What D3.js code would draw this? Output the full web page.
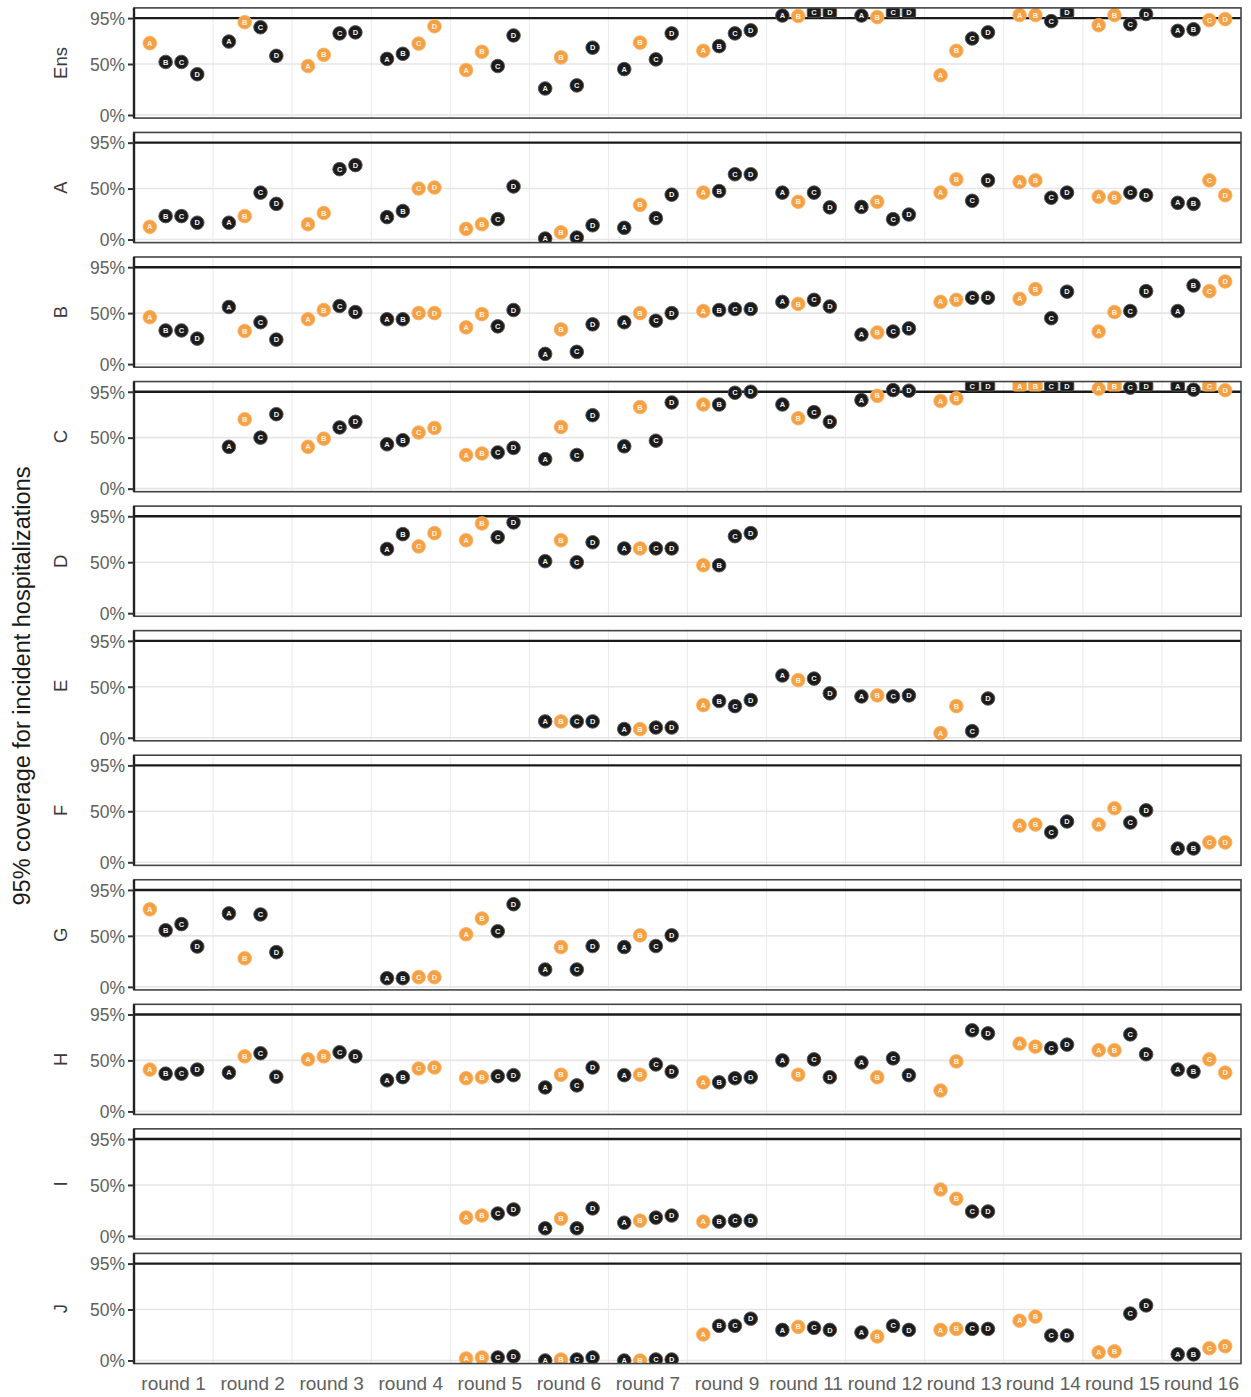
<!DOCTYPE html>
<html>
<head>
<meta charset="utf-8">
<script src="https://cdn.jsdelivr.net/npm/d3@7"></script>
<style>
  html, body { margin: 0; padding: 0; background: #fff; }
  svg { display: block; font-family: "Liberation Sans", Arial, sans-serif; }
</style>
</head>
<body>
<svg id="chart" width="1251" height="1397"></svg>
<script>
// ---------------- DATA ----------------
const rounds = ["round 1","round 2","round 3","round 4","round 5","round 6","round 7",
                "round 9","round 11","round 12","round 13","round 14","round 15","round 16"];
const scenarios = ["A","B","C","D"];
const models = ["Ens","A","B","C","D","E","F","G","H","I","J"];
// scenarios highlighted (orange) in each round
const highlighted = ["A","B","AB","CD","AB","B","B","A","B","B","AB","AB","AB","CD"];
const yTicks = [0, 50, 95];
const yTickLabels = ["0%", "50%", "95%"];
const targetCoverage = 95;

// coverage (%) per round, values for scenarios [A, B, C, D]; null = no projection
const covEns = [[70.5,52,52,40],[72,91,86,58],[48,59,80,81],[55,60,70,87],[44,62,48,78],
  [26,56.5,29,66],[45,71,54.5,80],[63,67.5,80,83],[97.5,97,100,100],[97.5,96,100,100],
  [39,63,75,81],[98,98,92,100],[88,98,89,99],[82.5,84,93,94]];
const covA = [[12.5,23,23,16.5],[16.5,23,46,35],[15,26,69,73],[22,28,50,51],[10.5,15,20,52],
  [1,7,2,14],[11.5,34,21,44],[46,47.5,64,64],[46,37,46,31.5],[32,37,20,24.5],
  [46,59,38,58],[56.5,58,41,46],[42,41,46,43.5],[36,35,58,43.5]];
const covB = [[46,33,33,25],[56,32.5,41,24],[44,53,57,51],[44,44,50,50],[36,49,37,53],
  [10,34,12,39],[41,50,42.5,50],[52,53,54,54],[61,59,63,56.5],[29,31,32,35],
  [61,63,65,65],[64,73.5,45,71],[32,51,52,71.5],[52,77,71.5,81]];
const covC = [null,[41,68,50,73],[41,49,60,65.5],[43.5,47.5,55,59.5],[33,34.5,35.5,40],
  [29,60.5,33,72],[41.5,80,47,84.5],[82.5,82.5,94,95],[82.5,69,75,65.5],[86.8,91,96.6,96],
  [86,88.5,100,100],[100,100,100,100],[98,100,99,100],[100,97,100,96.5]];
const covD = [null,null,null,[63,77.5,65.5,78.5],[71.5,88,74.5,89],[51,71.5,50,69.5],
  [63.5,63.5,63.5,63.5],[47,47,75.5,78.5],null,null,null,null,null,null];
const covE = [null,null,null,null,null,[16,16,16,16],[8.5,8.5,10,10],[32,36,31,37],
  [61,56.5,58,43.5],[40.5,41.5,40.5,41.5],[4.5,31,6.5,38.5],null,null,null];
const covF = [null,null,null,null,null,null,null,null,null,null,null,
  [36,37,29.5,40],[37,53,39,51],[13.5,13.5,19.5,19.5]];
const covG = [[76,55.5,61.5,39.5],[72,28,71,34],null,[8.5,8.5,9.5,9.5],[51.5,67,54.5,81],
  [17,39,17,40],[39,50.5,40,50.5],null,null,null,null,null,null,null];
const covH = [[41,37,37,41],[38,54,57,34],[51,54,58,54],[30.5,33.5,42,43],[32.5,33.5,34.5,35.5],
  [23.5,36,25.5,43],[35.5,36,46,39],[28.5,28.5,32.5,33.5],[50,36,51,33.5],[48,33.5,52,35.5],
  [20.5,49,79.5,76.5],[66.5,63.5,62,65.5],[60,60,75.5,56],[41,39,51,38]];
const covI = [null,null,null,null,[18,20,22,26],[7.5,17,7.5,27],[13,15,18,20],[14,14,15,15],
  null,null,[45.5,36.5,24,24],null,null,null];
const covJ = [null,null,null,null,[2,3,3,4],[0,1,1,3],[0,0,1,1],[25.5,34,34,41],
  [30,33,32,30],[27.5,23.5,34,30],[30,31,31,31],[39,43,24.5,24.5],[8,9,46,54],[6,6,12,14]];
const coverage = [covEns,covA,covB,covC,covD,covE,covF,covG,covH,covI,covJ];

// ---------------- LAYOUT ----------------
const svg = d3.select("#chart");
svg.append("rect").attr("width",1251).attr("height",1397).attr("fill","#fff");

const left = 134, right = 1241;
const firstBase = 115, pitch = 124.55;
const pxPerUnit = 1.02;
const orange = "#F4A043", black = "#1b1b1b";

const x = d3.scaleBand().domain(rounds).range([left, right]).padding(0);
const xs = d3.scalePoint().domain(scenarios).range([0.2, 0.8]);

const defs = svg.append("defs");

models.forEach((m, mi) => {
  const base = firstBase + pitch * mi;
  const y = d3.scaleLinear().domain([0, 100]).range([base, base - 100 * pxPerUnit]);
  const top = y(105), bottom = y(-3);
  const g = svg.append("g");

  const clipId = "clip" + mi;
  defs.append("clipPath").attr("id", clipId)
    .append("rect").attr("x", left).attr("y", top).attr("width", right - left).attr("height", bottom - top);

  // vertical grid lines at round boundaries
  g.selectAll(".vg").data(rounds.slice(1)).join("line")
    .attr("x1", d => x(d)).attr("x2", d => x(d))
    .attr("y1", top).attr("y2", bottom)
    .attr("stroke", "#ececec").attr("stroke-width", 1.1);
  // horizontal grid
  g.selectAll(".hg").data([0, 50]).join("line")
    .attr("x1", left).attr("x2", right)
    .attr("y1", d => y(d)).attr("y2", d => y(d))
    .attr("stroke", "#e6e6e6").attr("stroke-width", 1.6);

  // 95% target line
  g.append("line").attr("x1", left).attr("x2", right)
    .attr("y1", y(targetCoverage)).attr("y2", y(targetCoverage))
    .attr("stroke", "#1a1a1a").attr("stroke-width", 2.4);

  // points
  const pts = [];
  coverage[mi].forEach((vals, ri) => {
    if (!vals) return;
    vals.forEach((v, si) => {
      if (v == null) return;
      pts.push({ round: rounds[ri], sc: scenarios[si], v: v,
                 hi: highlighted[ri].includes(scenarios[si]) });
    });
  });
  const pg = g.append("g").attr("clip-path", `url(#${clipId})`);
  const node = pg.selectAll(".pt").data(pts).join("g")
    .attr("transform", d => `translate(${x(d.round) + x.bandwidth() * xs(d.sc)},${y(d.v)})`);
  node.filter(d => d.v < 99.8).append("circle")
    .attr("r", 6.8)
    .attr("fill", d => d.hi ? orange : black)
    .attr("stroke", d => d.hi ? "#f7b36b" : "#555")
    .attr("stroke-width", 0.9);
  node.filter(d => d.v >= 99.8).append("rect")
    .attr("x", -6.8).attr("y", top - y(100)).attr("width", 13.6).attr("height", 9.5).attr("rx", 2)
    .attr("fill", d => d.hi ? orange : black)
    .attr("stroke", d => d.hi ? "#f7b36b" : "#555")
    .attr("stroke-width", 0.9);
  node.append("text")
    .attr("y", d => d.v >= 99.8 ? (top - y(100)) + 7.3 : 2.6)
    .attr("text-anchor", "middle")
    .attr("font-size", 7.5).attr("font-weight", "bold")
    .attr("fill", d => d.hi ? "#fff3e3" : "#f2f2f2")
    .text(d => d.sc);

  // panel border
  g.append("rect").attr("x", left).attr("y", top).attr("width", right - left).attr("height", bottom - top)
    .attr("fill", "none").attr("stroke", "#444").attr("stroke-width", 1.6);
  // left axis line
  g.append("line").attr("x1", left).attr("x2", left).attr("y1", top).attr("y2", bottom)
    .attr("stroke", "#222").attr("stroke-width", 2.4);

  // y axis
  const ax = d3.axisLeft(y).tickValues(yTicks).tickFormat((d, i) => yTickLabels[i]).tickSize(6).tickPadding(3);
  const axg = g.append("g").attr("transform", `translate(${left},0)`).call(ax);
  axg.select(".domain").remove();
  axg.selectAll(".tick line").attr("stroke", "#333").attr("stroke-width", 2);
  axg.selectAll(".tick text").attr("fill", "#606060").attr("font-size", 17.5)
     .attr("font-family", "Liberation Sans, Arial, sans-serif").attr("dy", "0.36em");

  // facet label
  g.append("text")
    .attr("transform", `translate(67,${y(50) - 1}) rotate(-90)`)
    .attr("text-anchor", "middle")
    .attr("font-size", 18.5).attr("fill", "#3a3a3a")
    .text(m);

  // x axis labels under last panel
  if (mi === models.length - 1) {
    const xa = d3.axisBottom(x).tickSize(0).tickPadding(13);
    const xg = g.append("g").attr("transform", `translate(0,${bottom})`).call(xa);
    xg.select(".domain").remove();
    xg.selectAll(".tick text").attr("fill", "#606060").attr("font-size", 19)
      .attr("font-family", "Liberation Sans, Arial, sans-serif");
  }
});

// y axis title
svg.append("text")
  .attr("transform", "translate(30,686) rotate(-90)")
  .attr("text-anchor", "middle")
  .attr("font-size", 23.5).attr("fill", "#1a1a1a")
  .text("95% coverage for incident hospitalizations");
</script>
</body>
</html>
